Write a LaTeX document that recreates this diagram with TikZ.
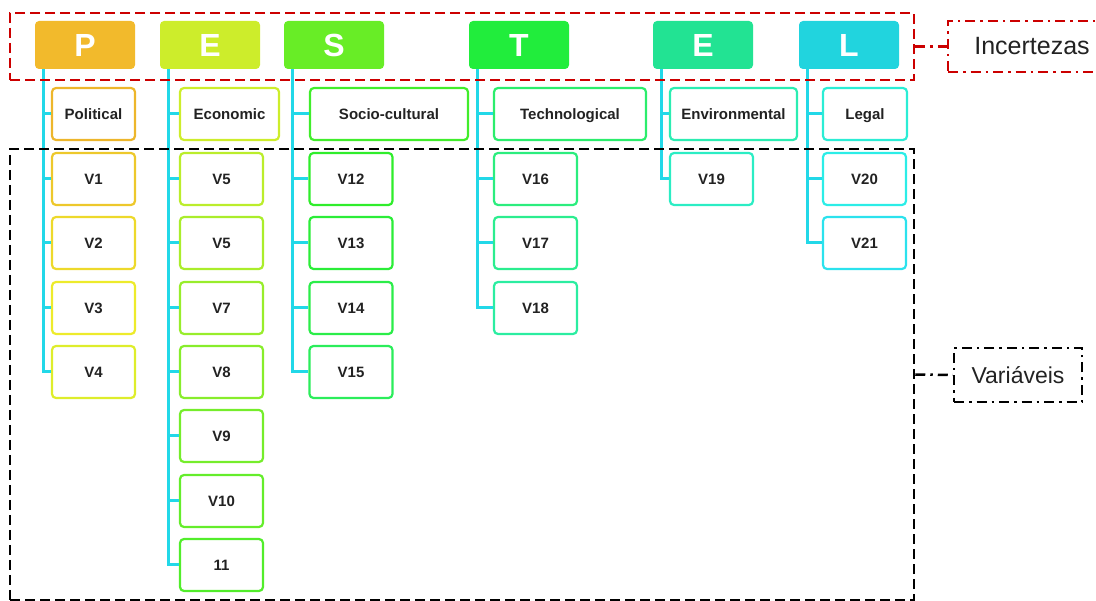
\PassOptionsToPackage{rgb}{xcolor}
\documentclass[tikz,border=0pt]{standalone}
\usepackage{fontspec}
\setmainfont{Liberation Sans}
\usetikzlibrary{positioning}

% cores dos quadros (do laranja ao ciano)
\foreach \i in {0,...,26}{%
  \pgfmathsetmacro\hh{43+5.4*\i}%
  \xglobal\definecolor{c\i}{Hsb}{\hh,0.82,0.93}}
\definecolor{cP}{Hsb}{43,0.82,0.95}
\definecolor{cE}{Hsb}{70,0.82,0.93}
\definecolor{cS}{Hsb}{100,0.84,0.93}
\definecolor{cT}{Hsb}{128,0.86,0.93}
\definecolor{cEn}{Hsb}{155,0.85,0.89}
\definecolor{cL}{Hsb}{183,0.85,0.87}
\definecolor{ciano}{HTML}{22D8E8}
\definecolor{vermelho}{HTML}{CC0000}
\definecolor{texto}{HTML}{222222}

\begin{document}
\begin{tikzpicture}[x=1pt,y=-1pt,
    letra/.style={rectangle, rounded corners=4, minimum width=100, minimum height=48,
      text=white, font=\fontsize{32}{36}\selectfont\bfseries},
    caixa/.style={draw, rectangle, rounded corners=4, line width=2.2, minimum height=52,
      text height=10.7pt, text depth=0pt,
      text=texto, font=\fontsize{15}{18}\selectfont\bfseries},
    vbox/.style={caixa, minimum width=83},
    linha/.style={ciano, line width=3},
    grupo/.style={draw, dash pattern=on 10pt off 5pt, line width=2.5, inner sep=0},
    rotulo/.style={draw, dash pattern=on 10pt off 5pt on 2.5pt off 5pt, line width=2.5,
      text=texto, inner sep=0},
    traco/.style={dash pattern=on 10pt off 5pt on 2.5pt off 5pt, line width=2.5}]
  \useasboundingbox (0,0) rectangle (1096,601);

  % letras PESTEL
  \node[letra, fill=cP] (P) at (85,45) {P};
  \node[letra, fill=cE] (E) at (210,45) {E};
  \node[letra, fill=cS] (S) at (334,45) {S};
  \node[letra, fill=cT] (T) at (519,45) {T};
  \node[letra, fill=cEn] (E2) at (703,45) {E};
  \node[letra, fill=cL] (L) at (849,45) {L};

  % categorias
  \node[caixa, draw=c0, minimum width=83] (pol) at (93.5,114) {Political};
  \node[caixa, draw=c5, minimum width=99] (eco) at (229.5,114) {Economic};
  \node[caixa, draw=c13, minimum width=158] (soc) at (389,114) {Socio-cultural};
  \node[caixa, draw=c18, minimum width=152] (tec) at (570,114) {Technological};
  \node[caixa, draw=c22, minimum width=127] (env) at (733.5,114) {Environmental};
  \node[caixa, draw=c24, minimum width=84] (leg) at (865,114) {Legal};

  % variaveis
  \foreach \n/\t/\y/\c in {v1/V1/179/1, v2/V2/243/2, v3/V3/308/3, v4/V4/372/4}
    \node[vbox, draw=c\c] (\n) at (93.5,\y) {\t};
  \foreach \n/\t/\y/\c in {v5/V5/179/6, v6/V5/243/7, v7/V7/308/8, v8/V8/372/9,
      v9/V9/436/10, v10/V10/501/11, v11/11/565/12}
    \node[vbox, draw=c\c] (\n) at (221.5,\y) {\t};
  \foreach \n/\t/\y/\c in {v12/V12/179/14, v13/V13/243/15, v14/V14/308/16, v15/V15/372/17}
    \node[vbox, draw=c\c] (\n) at (351,\y) {\t};
  \foreach \n/\t/\y/\c in {v16/V16/179/19, v17/V17/243/20, v18/V18/308/21}
    \node[vbox, draw=c\c] (\n) at (535.5,\y) {\t};
  \node[vbox, draw=c23] (v19) at (711.5,179) {V19};
  \node[vbox, draw=c25] (v20) at (864.5,179) {V20};
  \node[vbox, draw=c26] (v21) at (864.5,243) {V21};

  % ligacoes
  \foreach \a/\b in {P/pol, P/v1, P/v2, P/v3, P/v4,
      E/eco, E/v5, E/v6, E/v7, E/v8, E/v9, E/v10, E/v11,
      S/soc, S/v12, S/v13, S/v14, S/v15,
      T/tec, T/v16, T/v17, T/v18,
      E2/env, E2/v19,
      L/leg, L/v20, L/v21}
    \draw[linha] ([xshift=8.5]\a.south west) |- (\b.west);

  % grupos
  \node[grupo, draw=vermelho, minimum width=904, minimum height=67] (inc) at (462,46.5) {};
  \node[rotulo, draw=vermelho, minimum width=168, minimum height=51,
    font=\fontsize{25}{30}\selectfont] (incl) at (1032,46.5) {Incertezas};
  \draw[traco, vermelho] (inc.east) -- (incl.west);

  \node[grupo, draw=black, minimum width=904, minimum height=451] (var) at (462,374.5) {};
  \node[rotulo, draw=black, minimum width=128, minimum height=54,
    font=\fontsize{23}{28}\selectfont] (varl) at (1018,375) {Variáveis};
  \draw[traco, black] (var.east) -- (varl.west);
\end{tikzpicture}
\end{document}
